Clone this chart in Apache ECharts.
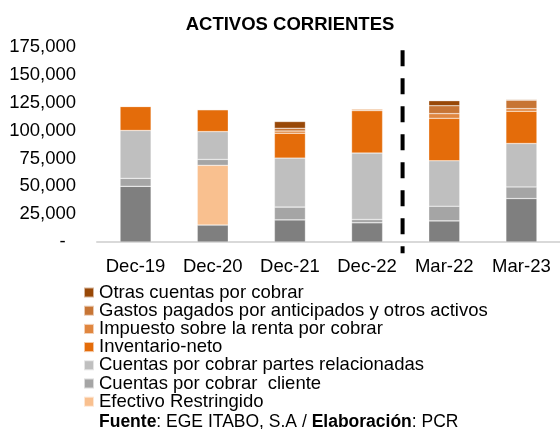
<!DOCTYPE html>
<html>
<head>
<meta charset="utf-8">
<script src="https://cdn.jsdelivr.net/npm/echarts@6/dist/echarts.min.js"></script>
<style>
  html, body { margin: 0; padding: 0; background: #fff; }
  #chart { width: 560px; height: 429px; }
</style>
</head>
<body>
<div id="chart"></div>
<script>
// categorias (periodos)
const periodos = ['Dec-19', 'Dec-20', 'Dec-21', 'Dec-22', 'Mar-22', 'Mar-23']

// valores por rubro (miles)
const efectivo = [50000, 15200, 19900, 17300, 19000, 39000]
const efectivoRestringido = [0, 53600, 0, 0, 0, 0]
const cuentasCliente = [7100, 5300, 11400, 2900, 13100, 10400]
const cuentasRelacionadas = [43000, 25000, 44000, 59600, 40800, 39000]
const inventario = [21500, 19700, 22300, 38100, 38100, 28900]
const impuesto = [500, 0, 2000, 1500, 4200, 2400]
const gastos = [0, 0, 2500, 0, 7100, 7600]
const otras = [0, 0, 6000, 0, 4500, 600]

// linea punteada que separa cierres anuales de trimestrales
const divisorX = 3.46
const divisorY = [172000, -10000]

const yTicks = { min: 0, max: 175000, step: 25000 }

const chart = echarts.init(document.getElementById('chart'))

function barra(name, data, color) {
  return {
    name: name,
    type: 'bar',
    stack: 'total',
    barWidth: 31,
    itemStyle: { color: color, borderColor: 'rgba(255,255,255,0.6)', borderWidth: 0.5 },
    data: data
  }
}

const option = {
  animation: false,
  textStyle: { fontFamily: 'Liberation Sans, Arial, sans-serif' },
  title: [{
    text: 'ACTIVOS CORRIENTES',
    left: 285,
    textAlign: 'center',
    top: 10,
    textStyle: { fontSize: 18.5, fontWeight: 'bold', color: '#000' }
  }, {
    text: '{b|Fuente}: EGE ITABO, S.A / {b|Elaboración}: PCR',
    left: 94,
    top: 408,
    textStyle: {
      fontSize: 17.5, fontWeight: 'normal', color: '#000',
      rich: { b: { fontSize: 17.5, fontWeight: 'bold', color: '#000' } }
    }
  }],
  legend: {
    orient: 'vertical',
    left: 78,
    top: 278,
    itemWidth: 10,
    itemHeight: 10,
    itemGap: -0.8,
    icon: 'rect',
    textStyle: { fontSize: 18.5, color: '#000', lineHeight: 18, padding: [0, 0, 0, 0] },
    data: ['Otras cuentas por cobrar', 'Gastos pagados por anticipados y otros activos',
      'Impuesto sobre la renta por cobrar', 'Inventario-neto',
      'Cuentas por cobrar partes relacionadas', 'Cuentas por cobrar  cliente',
      'Efectivo Restringido']
  },
  grid: { left: 97, top: 47, width: 473, height: 195 },
  xAxis: [{
    type: 'category',
    data: periodos,
    axisLine: { lineStyle: { color: '#d9d9d9', width: 2 } },
    axisTick: { show: false },
    axisLabel: { fontSize: 18.5, color: '#000', margin: 15, interval: 0 }
  }, {
    type: 'value',
    min: -0.5,
    max: 5.5,
    show: false
  }],
  yAxis: {
    type: 'value',
    min: yTicks.min,
    max: yTicks.max,
    interval: yTicks.step,
    splitLine: { show: false },
    axisLine: { show: false },
    axisTick: { show: false },
    axisLabel: {
      fontSize: 18.5,
      color: '#000',
      margin: 21,
      formatter: function (v) {
        return v === 0 ? '-  ' : v.toLocaleString('en-US')
      }
    }
  },
  series: [
    barra('Efectivo y equivalentes de efectivo', efectivo, '#7f7f7f'),
    barra('Efectivo Restringido', efectivoRestringido, '#f9c08f'),
    barra('Cuentas por cobrar  cliente', cuentasCliente, '#a5a5a5'),
    barra('Cuentas por cobrar partes relacionadas', cuentasRelacionadas, '#bfbfbf'),
    barra('Inventario-neto', inventario, '#e46c0a'),
    barra('Impuesto sobre la renta por cobrar', impuesto, '#e0863f'),
    barra('Gastos pagados por anticipados y otros activos', gastos, '#c77535'),
    barra('Otras cuentas por cobrar', otras, '#984807'),
    {
      name: 'divisor',
      type: 'line',
      xAxisIndex: 1,
      clip: false,
      symbol: 'none',
      silent: true,
      lineStyle: { color: '#000', width: 4, type: [16, 12] },
      data: [[divisorX, divisorY[0]], [divisorX, divisorY[1]]]
    }
  ]
}

chart.setOption(option)
</script>
</body>
</html>
